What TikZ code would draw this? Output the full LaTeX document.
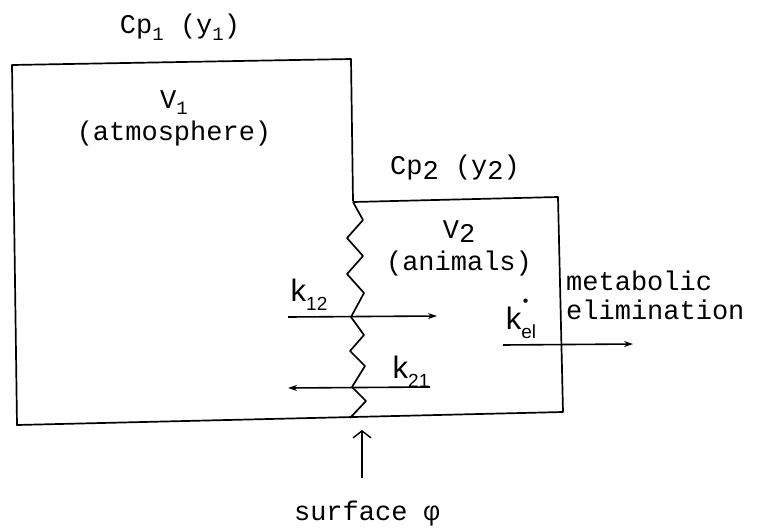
\documentclass[tikz,border=0pt]{standalone}
\usepackage{fontspec}
\setmonofont{Liberation Mono}
\newfontfamily\kfont{Liberation Sans}
\usetikzlibrary{arrows.meta}
\newcommand{\lsub}[1]{\raisebox{-0.25em}{\fontsize{19}{19}\selectfont #1}}
\newcommand{\dsub}[1]{\raisebox{-0.18em}{#1}}
\newcommand{\ksub}[1]{\raisebox{-0.3em}{\fontsize{19}{19}\selectfont #1}}
\begin{document}
\begin{tikzpicture}[x=1pt,y=-1pt,
  lbl/.style={font=\ttfamily\fontsize{27}{27}\selectfont, inner sep=0pt, align=center},
  llbl/.style={font=\ttfamily\fontsize{27}{29}\selectfont, inner sep=0pt, align=left},
  klbl/.style={font=\kfont\fontsize{31}{31}\selectfont, inner sep=0pt},
  flow/.style={-{Stealth[length=9pt,width=6pt]}, line width=1.6pt},
  wall/.style={line width=1.7pt, line join=round}]
\useasboundingbox (0,0) rectangle (771,531);
% compartments
\draw[wall] (353,201) -- (351,59) -- (12,65) -- (17,425) -- (563,412) -- (558,197) -- (353,202);
% membrane (surface)
\draw[wall] (353,202) -- (363,220) -- (347,238) -- (363,256) -- (347,274) -- (364,293)
  -- (351,317) -- (364,335) -- (350,351) -- (365,366) -- (352,387) -- (366,401) -- (350,418);
% labels
\node[lbl] (cp1) at (180,27) {Cp\lsub{1} (y\lsub{1})};
\node[lbl] (v1) at (174,118) {V\lsub{1}\\[5pt](atmosphere)};
\node[lbl] (cp2) at (455,168) {Cp\dsub{2} (y\dsub{2})};
\node[lbl] (v2) at (459,248) {V\dsub{2}\\[5pt](animals)};
\node[llbl, anchor=west] (met) at (566,295) {metabolic\\elimination};
\node[lbl] (surf) at (367,514) {surface φ};
\node[klbl] (k12) at (309,295) {k\ksub{12}};
\node[klbl] (k21) at (411,372) {k\ksub{21}};
\node[klbl] (kel) at (521,319) {k\makebox[0pt][l]{\hspace{0.05em}\raisebox{0.72em}{\fontsize{16}{16}\selectfont •}}\ksub{el}};
% flows
\coordinate (a12s) at (288,317);
\coordinate (a12e) at (437,316);
\coordinate (a21s) at (430,387);
\coordinate (a21e) at (288,388);
\coordinate (aels) at (503,345);
\coordinate (aele) at (633,344);
\coordinate (sfs) at (362,478);
\coordinate (sfe) at (362,430);
\draw[flow] (a12s) -- (a12e);
\draw[flow] (a21s) -- (a21e);
\draw[flow] (aels) -- (aele);
\draw[-{Straight Barb[length=7pt,width=18pt]}, line width=1.4pt] (sfs) -- (sfe);
\end{tikzpicture}
\end{document}
